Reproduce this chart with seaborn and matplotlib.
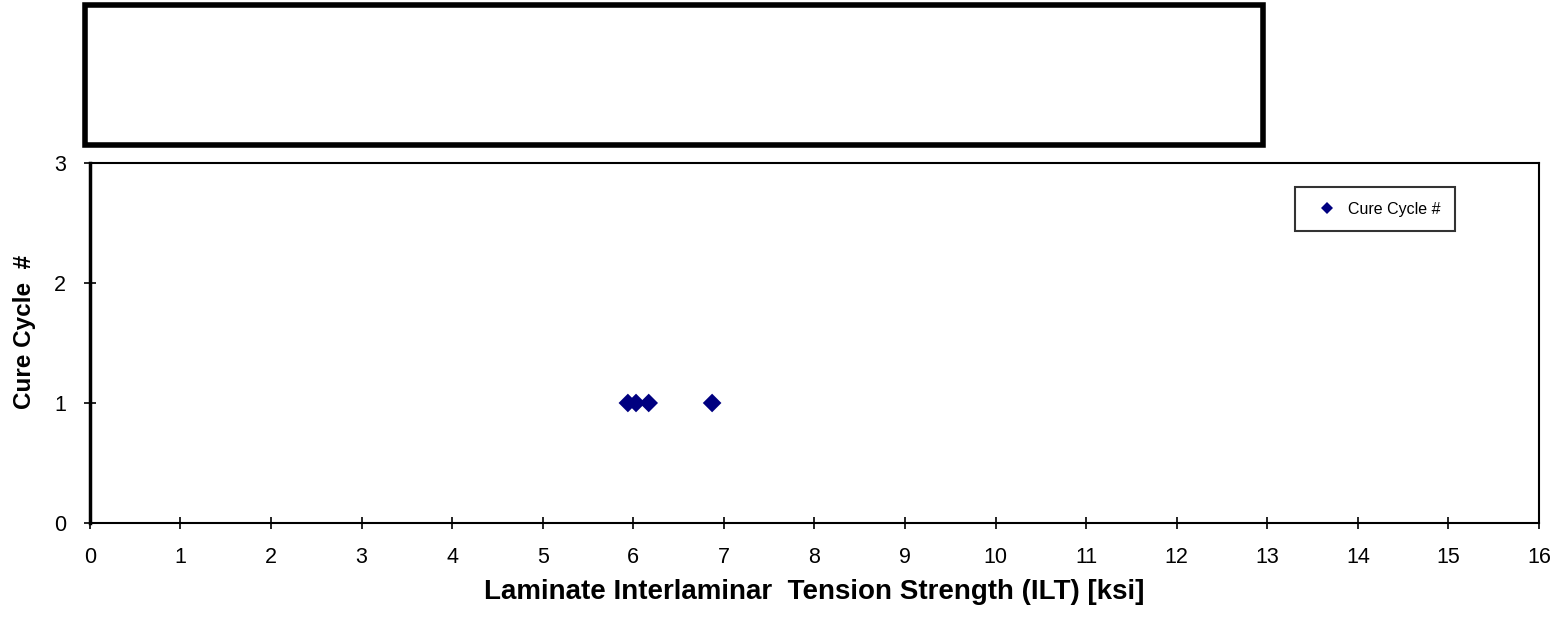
import matplotlib
matplotlib.use("Agg")
import matplotlib.pyplot as plt
import pandas as pd
import seaborn as sns
from matplotlib.patches import Rectangle

# values
ilt_ksi = [5.94, 6.03, 6.17, 6.87]
cure_cycle = [1, 1, 1, 1]
series_name = "Cure Cycle #"
x_ticks = list(range(0, 17))
y_ticks = [0, 1, 2, 3]

df = pd.DataFrame({"ILT": ilt_ksi, "Cycle": cure_cycle, "series": series_name})

sns.set_style("white")
plt.rcParams["font.family"] = ["Liberation Sans", "DejaVu Sans"]
plt.rcParams["text.color"] = "black"
plt.rcParams["axes.labelcolor"] = "black"

fig = plt.figure(figsize=(15.5, 6.17), dpi=100)
ax = fig.add_axes([0.058, 0.1524, 0.9349, 0.5834])

sns.scatterplot(
    data=df, x="ILT", y="Cycle", hue="series", palette=["#000080"],
    marker="D", s=90, edgecolor="#000080", linewidth=0, ax=ax,
)

ax.set_xlim(0, 16)
ax.set_ylim(0, 3)
ax.set_xticks(x_ticks)
ax.set_yticks(y_ticks)
ax.tick_params(bottom=True, left=True, direction="inout", length=8, width=1.2,
               labelsize=15.5, pad=13, colors="black")
for side in ("top", "right", "bottom"):
    ax.spines[side].set_linewidth(1.5)
    ax.spines[side].set_color("black")
ax.spines["left"].set_linewidth(2.5)
ax.spines["left"].set_color("black")

ax.set_xlabel("Laminate Interlaminar  Tension Strength (ILT) [ksi]",
              fontsize=20, fontweight="bold", labelpad=8)
ax.set_ylabel("Cure Cycle  #", fontsize=17.5, fontweight="bold")
ax.yaxis.set_label_coords(-0.037, 0.53)

leg = ax.legend(loc="upper right", bbox_to_anchor=(0.942, 0.933), fontsize=11.5,
                frameon=True, fancybox=False, edgecolor="black",
                handletextpad=0.2, borderpad=0.9, borderaxespad=0,
                markerscale=0.6, handlelength=2.2)
leg.get_frame().set_linewidth(1.5)

# empty title box above the plot
fig.patches.append(Rectangle((0.0548, 0.765), 0.76, 0.2277, transform=fig.transFigure,
                             fill=False, edgecolor="black", linewidth=4))

fig.savefig("out.png", dpi=100)
